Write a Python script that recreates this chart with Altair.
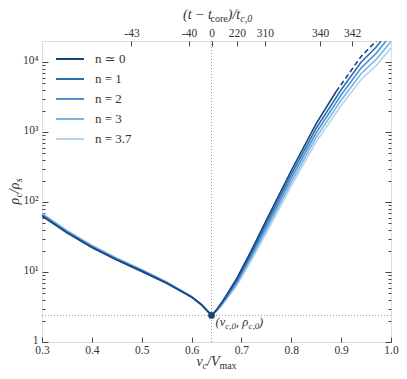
import altair as alt
import pandas as pd

FONT = "Liberation Serif, DejaVu Serif, serif"
TXT = "#333333"
FRAME = "#555555"
GRIDC = "#9a9a9a"

series_names = ["n ≃ 0", "n = 1", "n = 2", "n = 3", "n = 3.7"]
series_colors = ["#17457f", "#2d6db1", "#4b92cf", "#7cb4df", "#b2d4ee"]

# left branch (v_c/Vmax < v_c0)
v_left = [0.30, 0.35, 0.40, 0.45, 0.50, 0.55, 0.60, 0.62, 0.64]
# right branch
v_right = [0.65, 0.66, 0.67, 0.69, 0.72, 0.75, 0.80, 0.85, 0.90, 0.94, 0.97, 1.00]
v_right_n0 = [0.65, 0.66, 0.67, 0.69, 0.72, 0.75, 0.80, 0.85, 0.89]
v_dash_n0 = [0.89, 0.90, 0.94, 0.97, 1.00]

rho_n0_left = [63.1, 36.3, 22.4, 14.8, 10.2, 6.92, 4.37, 3.39, 2.40]
rho_n1_left = [64.6, 37.1, 22.8, 15.1, 10.4, 7.00, 4.40, 3.40, 2.40]
rho_n2_left = [66.1, 37.8, 23.2, 15.3, 10.6, 7.08, 4.43, 3.42, 2.40]
rho_n3_left = [67.6, 38.6, 23.7, 15.6, 10.7, 7.16, 4.46, 3.44, 2.40]
rho_n37_left = [69.2, 39.4, 24.1, 15.9, 10.9, 7.24, 4.49, 3.45, 2.40]

rho_n0_right = [2.88, 3.63, 4.68, 7.94, 20.4, 55.0, 282, 1318, 3802]
rho_n0_dash = [3802, 4786, 12023, 19953, 38019]
rho_n1_right = [2.85, 3.55, 4.52, 7.50, 18.8, 49.5, 248, 1135, 4027, 9954, 16293, 30549]
rho_n2_right = [2.82, 3.47, 4.37, 7.08, 17.4, 44.7, 219, 977, 3388, 8241, 13305, 24547]
rho_n3_right = [2.79, 3.39, 4.22, 6.68, 16.0, 40.3, 193, 841, 2851, 6823, 10864, 19724]
rho_n37_right = [2.75, 3.31, 4.07, 6.31, 14.8, 36.3, 170, 724, 2399, 5649, 8872, 15849]

v_c0 = [0.64]
rho_c0 = [2.4]

x_ticks = [0.3, 0.4, 0.5, 0.6, 0.7, 0.8, 0.9, 1.0]
y_ticks = [1, 10, 100, 1000, 10000]
y_tick_labels = ["1", "10¹", "10²", "10³", "10⁴"]
y_minor = [m * 10 ** k for k in range(4) for m in range(2, 10)]
top_tick_pos = [0.4795, 0.5952, 0.64, 0.691, 0.747, 0.858, 0.922]
top_tick_labels = ["-43", "-40", "0", "220", "310", "340", "342"]

# ---------- data frames ----------
curves = [
    ("n = 3.7", v_left + v_right, rho_n37_left + rho_n37_right),
    ("n = 3", v_left + v_right, rho_n3_left + rho_n3_right),
    ("n = 2", v_left + v_right, rho_n2_left + rho_n2_right),
    ("n = 1", v_left + v_right, rho_n1_left + rho_n1_right),
    ("n ≃ 0", v_left + v_right_n0, rho_n0_left + rho_n0_right),
]
rows = []
for name, vs, rs in curves:
    for v, r in zip(vs, rs):
        rows.append({"series": name, "v": v, "rho": r})
df = pd.DataFrame(rows)
df_dash = pd.DataFrame({"v": v_dash_n0, "rho": rho_n0_dash})
df_pt = pd.DataFrame({"v": v_c0, "rho": rho_c0})
one = pd.DataFrame({"a": [0]})

xscale = alt.Scale(domain=[0.3, 1.0], nice=False, zero=False)
yscale = alt.Scale(type="log", domain=[1, 20000], nice=False)

y_label_expr = " : ".join(
    [f"datum.value == {v} ? '{l}'" for v, l in zip(y_ticks[:-1], y_tick_labels[:-1])]
) + f" : '{y_tick_labels[-1]}'"
top_label_expr = ""
for i in range(len(top_tick_pos) - 1):
    mid = (top_tick_pos[i] + top_tick_pos[i + 1]) / 2
    top_label_expr += f"datum.value < {mid:.4f} ? '{top_tick_labels[i]}' : "
top_label_expr += f"'{top_tick_labels[-1]}'"

ax_common = dict(grid=False, domain=False, labelFont=FONT, labelColor=TXT,
                 tickColor="#444444", tickWidth=1, title=None,
                 labelFlush=False, labelOverlap=False)

bottom_axis = alt.Axis(orient="bottom", values=x_ticks, format=".1f", tickSize=5,
                       offset=-5, labelPadding=2, labelFontSize=11.5, **ax_common)
left_axis = alt.Axis(orient="left", values=y_ticks, labelExpr=y_label_expr, tickSize=6,
                     offset=-6, labelPadding=4, labelFontSize=11.5, labelOffset=-2,
                     **ax_common)

legend = alt.Legend(title=None, orient="none", legendX=20, legendY=10,
                    symbolType="M-2,0H2", symbolSize=196, symbolStrokeWidth=2,
                    labelFont=FONT, labelFontSize=13, labelColor=TXT,
                    rowPadding=5, labelOffset=17, padding=0)

lines = alt.Chart(df).mark_line(clip=True, strokeWidth=1.6).encode(
    x=alt.X("v:Q", scale=xscale, axis=bottom_axis),
    y=alt.Y("rho:Q", scale=yscale, axis=left_axis),
    color=alt.Color("series:N", scale=alt.Scale(domain=series_names, range=series_colors),
                    legend=legend),
    order="v:Q",
)

dash = alt.Chart(df_dash).mark_line(clip=True, strokeWidth=1.6, strokeDash=[5, 3],
                                     color=series_colors[0]).encode(
    x=alt.X("v:Q", scale=xscale, axis=None),
    y=alt.Y("rho:Q", scale=yscale, axis=None),
    order="v:Q",
)

vrule = alt.Chart(df_pt).mark_rule(color=GRIDC, strokeDash=[1, 2], strokeWidth=1).encode(
    x=alt.X("v:Q", scale=xscale, axis=None))
hrule = alt.Chart(df_pt).mark_rule(color=GRIDC, strokeDash=[1, 2], strokeWidth=1).encode(
    y=alt.Y("rho:Q", scale=yscale, axis=None))

point = alt.Chart(df_pt).mark_circle(size=45, color=series_colors[0], opacity=1).encode(
    x=alt.X("v:Q", scale=xscale, axis=None),
    y=alt.Y("rho:Q", scale=yscale, axis=None),
)

# annotation (v_c,0, rho_c,0)
ann_pieces = [("(v", 4, 11, 12.5, "italic"), ("c,0", 13.7, 14, 9, "italic"),
              (", ρ", 24.4, 11, 12.5, "italic"), ("c,0", 36.9, 14, 9, "italic"),
              (")", 47.6, 11, 12.5, "italic")]
ann_layers = []
for txt, dx, dy, fs, st in ann_pieces:
    ann_layers.append(
        alt.Chart(df_pt).mark_text(align="left", baseline="alphabetic", dx=dx, dy=dy,
                                   font=FONT, fontSize=fs, fontStyle=st, color=TXT).encode(
            x=alt.X("v:Q", scale=xscale, axis=None),
            y=alt.Y("rho:Q", scale=yscale, axis=None),
            text=alt.value(txt)))

W, H = 349, 301


def title_pieces(pieces, x, y, angle=0):
    out = []
    for txt, dx, dy, fs, st in pieces:
        kw = dict(align="left", baseline="alphabetic", dx=dx, dy=dy, font=FONT,
                  fontSize=fs, fontStyle=st, color=TXT)
        if angle:
            kw["angle"] = angle
        out.append(alt.Chart(one).mark_text(**kw).encode(
            x=alt.value(x), y=alt.value(y), text=alt.value(txt)))
    return out


top_title = title_pieces([("(t − t", -34.5, 0, 14, "italic"), ("core", -6.9, 3, 10, "normal"),
                          (")/t", 10.3, 0, 14, "italic"), ("c,0", 22.7, 3, 10, "italic")],
                         W / 2 + 1, -22.5)
bottom_title = title_pieces([("v", -20.1, 0, 14, "italic"), ("c", -13.9, 3, 10, "italic"),
                             ("/V", -9.5, 0, 14, "italic"), ("max", 2.9, 3, 10, "normal")],
                            W / 2, 325)
left_title = title_pieces([("ρ", -13.1, 0, 14, "italic"), ("c", -6.1, 3, 10, "italic"),
                           ("/ρ", -1.7, 0, 14, "italic"), ("s", 9.2, 3, 10, "italic")],
                          -23, H / 2, angle=270)

# extra axes: top (time labels), left minor, right major & minor
top_axis_layer = alt.Chart(df_pt).mark_point(opacity=0).encode(
    x=alt.X("v:Q", scale=xscale,
            axis=alt.Axis(orient="top", values=top_tick_pos, labelExpr=top_label_expr,
                          tickSize=5, offset=-5, labelPadding=3, labelFontSize=11.5,
                          **ax_common)),
    y=alt.Y("rho:Q", scale=yscale, axis=None))
left_minor = alt.Chart(df_pt).mark_point(opacity=0).encode(
    x=alt.X("v:Q", scale=xscale, axis=None),
    y=alt.Y("rho:Q", scale=yscale,
            axis=alt.Axis(orient="left", values=y_minor, labels=False, tickSize=3, offset=-3,
                          **ax_common)))
right_major = alt.Chart(df_pt).mark_point(opacity=0).encode(
    x=alt.X("v:Q", scale=xscale, axis=None),
    y=alt.Y("rho:Q", scale=yscale,
            axis=alt.Axis(orient="right", values=y_ticks, labels=False, tickSize=6, offset=-6,
                          **ax_common)))
right_minor = alt.Chart(df_pt).mark_point(opacity=0).encode(
    x=alt.X("v:Q", scale=xscale, axis=None),
    y=alt.Y("rho:Q", scale=yscale,
            axis=alt.Axis(orient="right", values=y_minor, labels=False, tickSize=3, offset=-3,
                          **ax_common)))

chart = alt.layer(
    vrule, hrule, lines, dash, point, *ann_layers, top_axis_layer, left_minor,
    right_major, right_minor, *top_title, *bottom_title, *left_title
).resolve_axis(x="independent", y="independent").properties(
    width=W, height=H,
    autosize=alt.AutoSizeParams(type="none"),
    padding={"left": 34, "top": 33, "right": 8, "bottom": 29},
).configure_view(stroke=FRAME, strokeWidth=1.2).configure(background="white")

chart.save("out.html", embed_options={"renderer": "svg", "actions": False})
